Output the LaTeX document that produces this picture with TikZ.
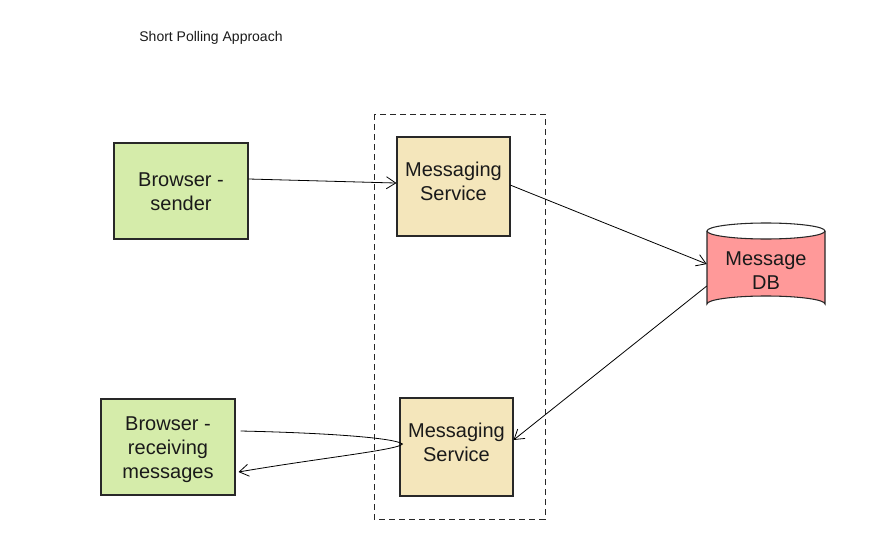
\documentclass[tikz,border=0pt]{standalone}
\usepackage{fontspec}
\setmainfont{Liberation Sans}
\usetikzlibrary{arrows.meta}
\definecolor{boxgreen}{RGB}{213,236,170}
\definecolor{boxtan}{RGB}{244,230,187}
\definecolor{dbred}{RGB}{255,153,153}
\definecolor{linegray}{RGB}{40,40,40}
\definecolor{txt}{RGB}{26,26,26}
\tikzset{
  lbl/.style={align=center, text=txt, font=\fontsize{15}{18}\selectfont, inner sep=0pt},
  box/.style={draw=linegray, line width=0.8pt, inner sep=2pt},
  greenbox/.style={box, fill=boxgreen, minimum width=100.5pt, minimum height=72pt},
  tanbox/.style={box, fill=boxtan, minimum width=84.75pt},
  conn/.style={draw=black, line width=0.6pt, -{Straight Barb[length=7pt,width=9pt]}},
}
\begin{document}
\begin{tikzpicture}[x=0.75pt,y=-0.75pt]
\useasboundingbox (0,0) rectangle (875,560);
% title
\node[text=txt, font=\fontsize{10.5}{12}\selectfont] (title) at (211,37.5) {Short Polling Approach};
% dashed group
\draw[linegray, line width=0.7pt, dash pattern=on 4.5pt off 3pt] (374,114) rectangle (545,519);
% boxes
\node[greenbox, label={[lbl, yshift=-0.75pt]center:Browser -\\sender}] (bs) at (181,191) {};
\node[tanbox, minimum height=74.25pt, label={[lbl, yshift=3.75pt]center:Messaging\\Service}] (ms1) at (453.5,186.5) {};
\node[tanbox, minimum height=73.5pt, label={[lbl, yshift=3.75pt]center:Messaging\\Service}] (ms2) at (456.5,447) {};
\node[greenbox, label={[lbl, yshift=-2pt]center:Browser -\\receiving\\messages}] (br) at (168,447) {};
% cylinder
\fill[dbred] (707,231) -- (707,304) arc[start angle=180, end angle=360, x radius=59, y radius=8]
  -- (825,231) arc[start angle=0, end angle=180, x radius=59, y radius=8] -- cycle;
\draw[linegray, line width=0.8pt] (707,231) -- (707,304) arc[start angle=180, end angle=360, x radius=59, y radius=8]
  -- (825,231);
\draw[linegray, line width=0.8pt] (766,231) ellipse[x radius=59, y radius=8];
\node[minimum width=88.5pt, minimum height=66.75pt, inner sep=0pt] (db) at (766,267.5) {};
\node[lbl] (dblabel) at (766,271) {Message\\DB};
% connectors
\draw[conn] ([yshift=9pt]bs.east) -- ([yshift=2.6pt]ms1.west);
\draw[conn] ([yshift=1pt]ms1.east) -- ([yshift=2.6pt]db.west);
\draw[conn] ([yshift=-13.9pt]db.west) -- ([yshift=5.25pt]ms2.east);
\coordinate (tip) at ([xshift=2.25pt,yshift=2.25pt]ms2.west);
\draw[conn] ([xshift=3.75pt,yshift=12pt]br.east) .. controls (330,433) and (395,438) .. (tip)
  .. controls (398,450) and (320,458) .. ([xshift=2.25pt,yshift=-18.75pt]br.east);
\end{tikzpicture}
\end{document}
